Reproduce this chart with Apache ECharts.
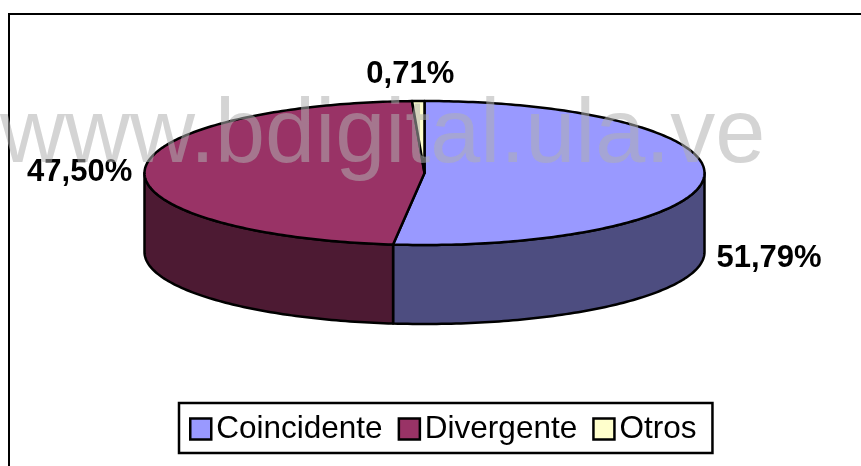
<!DOCTYPE html>
<html><head><meta charset="utf-8">
<style>html,body{margin:0;padding:0;background:#fff}#c{width:861px;height:466px}</style>
<script src="https://cdn.jsdelivr.net/npm/echarts@6/dist/echarts.min.js"></script>
</head><body><div id="c"></div>
<script>
const categories = ['Coincidente', 'Divergente', 'Otros'];
const values = [51.79, 47.50, 0.71];
const topColors = ['#9999ff', '#993366', '#ffffcc'];
const wallColors = ['#4d4d80', '#4d1a33', '#80806a'];
const labelOffsets = [[65, 81], [-65, 2], [-8, -27]];
const watermark = 'www.bdigital.ula.ve';

const CX = 424.5, CY = 173, RX = 280, RY = 72, DEPTH = 79;
const total = values.reduce((a, b) => a + b, 0);
function pt(deg, dy) {
  const r = deg * Math.PI / 180;
  return [CX + RX * Math.sin(r), CY - RY * Math.cos(r) + (dy || 0)];
}
function arc(a0, a1, dy) {
  const out = [], n = Math.max(2, Math.ceil(Math.abs(a1 - a0)));
  for (let i = 0; i <= n; i++) out.push(pt(a0 + (a1 - a0) * i / n, dy));
  return out;
}
function renderSlice(idx) {
  return function (params, api) {
    const v = api.value(0);
    let before = 0;
    for (let i = 0; i < idx; i++) before += values[i];
    const a0 = before / total * 360, a1 = (before + v) / total * 360;
    const children = [];
    const w0 = Math.max(a0, 90), w1 = Math.min(a1, 270);
    const stroke = { stroke: '#000', lineWidth: 2.5, lineJoin: 'round' };
    if (w1 > w0) {
      const pts = arc(w0, w1, 0).concat(arc(w1, w0, DEPTH));
      children.push({ type: 'polygon', shape: { points: pts },
        style: Object.assign({ fill: wallColors[idx] }, stroke) });
    }
    const top = [[CX, CY]].concat(arc(a0, a1, 0));
    children.push({ type: 'polygon', shape: { points: top },
      style: Object.assign({ fill: topColors[idx] }, stroke) });
    const mid = pt((a0 + a1) / 2, 0), off = labelOffsets[idx];
    children.push({ type: 'text', x: mid[0] + off[0], y: mid[1] + off[1], z2: 20,
      style: { text: v.toFixed(2).replace('.', ',') + '%', fill: '#000',
        font: 'bold 31px "Liberation Sans", Arial, sans-serif',
        align: 'center', verticalAlign: 'middle' } });
    return { type: 'group', children };
  };
}
const chart = echarts.init(document.getElementById('c'), null, { renderer: 'canvas' });
chart.setOption({
  animation: false,
  backgroundColor: '#fff',
  legend: {
    data: categories, left: 179, top: 403, orient: 'horizontal',
    padding: [10, 16, 8, 10], itemGap: 15, itemWidth: 21, itemHeight: 21,
    icon: 'rect', borderColor: '#000', borderWidth: 2.5, borderRadius: 0,
    backgroundColor: '#fff', selectedMode: false,
    itemStyle: { borderColor: '#000', borderWidth: 2.5 },
    textStyle: { fontFamily: '"Liberation Sans", Arial, sans-serif', fontSize: 31.5, color: '#000' }
  },
  graphic: [
    { type: 'polyline', z: 1, silent: true, shape: { points: [[9, 466], [9, 14], [861, 14]] },
      style: { stroke: '#000', lineWidth: 2, fill: null } },
    { type: 'text', z: 100, silent: true, x: 0, y: 92,
      style: { text: watermark, fill: 'rgba(175,175,175,0.54)',
        font: '90px "Liberation Sans", Arial, sans-serif', align: 'left', verticalAlign: 'top' } }
  ],
  series: categories.map((name, i) => ({
    type: 'custom', name, coordinateSystem: 'none', silent: true, z: 5,
    itemStyle: { color: topColors[i] },
    renderItem: renderSlice(i),
    data: [[values[i]]]
  }))
});
</script></body></html>
